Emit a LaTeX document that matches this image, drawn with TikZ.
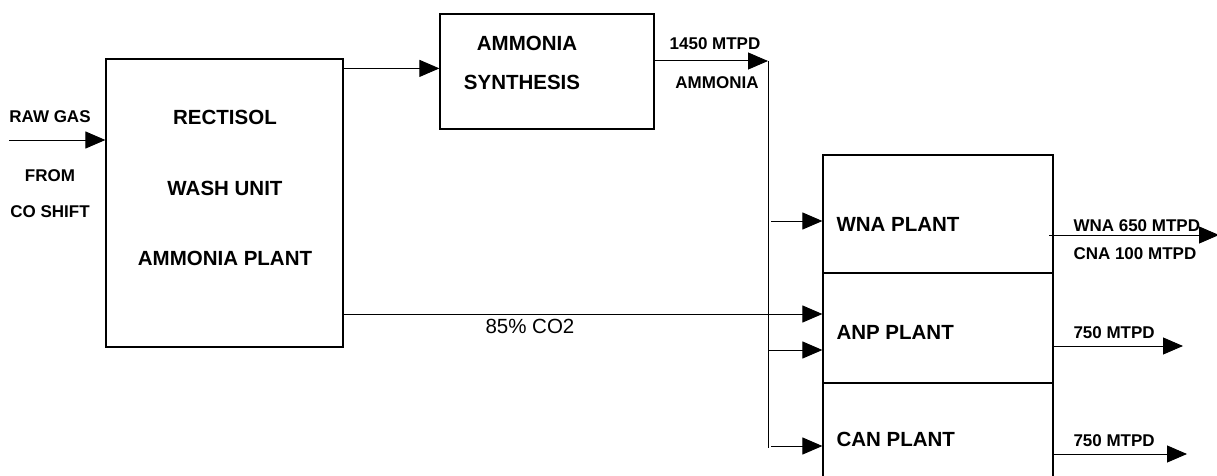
\documentclass[tikz,border=0pt]{standalone}
\usepackage{fontspec}
\setmainfont{Liberation Sans}
\usetikzlibrary{
  arrows.meta,%
  positioning
}
\tikzset{>={Triangle[length=20pt, width=17pt]}}
\tikzset{unitbox/.style={draw, line width=1.2pt, inner sep=0pt}}
\tikzset{boxtext/.style={inner sep=0pt, font=\fontsize{20.5}{24}\selectfont\bfseries}}
\tikzset{flowtext/.style={inner sep=0pt, font=\fontsize{17}{20}\selectfont\bfseries}}

\begin{document}
\begin{tikzpicture}[x=1pt, y=-1pt, line width=1pt]
  \useasboundingbox (0,0) rectangle (1217,476);
  % boxes
  \node[unitbox, minimum width=237pt, minimum height=288pt] (rect) at (224.5,203) {}; %
  \node[unitbox, minimum width=214pt, minimum height=115pt] (synth) at (547,71.5) {}; %
  \node[unitbox, minimum width=230pt, minimum height=118pt] (wna) at (938,214) {}; %
  \node[unitbox, minimum width=230pt, minimum height=110pt] (anp) at (938,328) {}; %
  \node[unitbox, minimum width=230pt, minimum height=110pt] (can) at (938,438) {}; %
  % box texts
  \node[boxtext] (rectA) at (225,117) {RECTISOL}; %
  \node[boxtext] (rectB) at (225,188) {WASH UNIT}; %
  \node[boxtext] (rectC) at (225,258) {AMMONIA PLANT}; %
  \node[boxtext] (synthA) at (527,43) {AMMONIA}; %
  \node[boxtext] (synthB) at (522,82) {SYNTHESIS}; %
  \node[boxtext, anchor=west] (wnaT) at (836,224) {WNA PLANT}; %
  \node[boxtext, anchor=west] (anpT) at (836,332) {ANP PLANT}; %
  \node[boxtext, anchor=west] (canT) at (836,439) {CAN PLANT}; %
  % raw gas feed
  \coordinate (feed) at (9,140); %
  \draw[->] (feed) -- (feed -| rect.west); %
  \node[flowtext] (rawA) at (50,117) {RAW GAS}; %
  \node[flowtext] (rawB) at (50,176) {FROM}; %
  \node[flowtext] (rawC) at (50,212) {CO SHIFT}; %
  % rectisol to synthesis
  \coordinate (syngas) at ([yshift=-10pt]rect.north east); %
  \draw[->] (syngas) -- (syngas -| synth.west); %
  % ammonia header
  \coordinate (nh3) at (768,61); %
  \coordinate (nh3end) at (768,448); %
  \draw[->] (synth.east |- nh3) -- (nh3); %
  \draw (nh3) -- (nh3end); %
  \node[flowtext] (nh3A) at (715,44) {1450 MTPD}; %
  \node[flowtext] (nh3B) at (717,83) {AMMONIA}; %
  \coordinate (tapA) at (771,221); %
  \coordinate (tapB) at (768,350); %
  \coordinate (tapC) at (771,446); %
  \draw[->] (tapA) -- (tapA -| wna.west); %
  \draw[->] (tapB) -- (tapB -| anp.west); %
  \draw[->] (tapC) -- (tapC -| can.west); %
  % carbon dioxide
  \coordinate (co2) at (343,314); %
  \draw[->] (co2) -- node[pos=0.39, below=5pt, inner sep=0pt, font=\fontsize{20.5}{24}\selectfont] (co2T) {85\% CO2} (co2 -| anp.west); %
  % products
  \coordinate (outA) at (1049,235); %
  \coordinate (outAend) at (1219,235); %
  \coordinate (outB) at (1183,346); %
  \coordinate (outC) at (1187,454); %
  \draw[->] (outA) -- (outAend); %
  \draw[->] (anp.east |- outB) -- (outB); %
  \draw[->] (can.east |- outC) -- (outC); %
  \node[flowtext, anchor=west] (prodA) at (1073,226) {WNA 650 MTPD}; %
  \node[flowtext, anchor=west] (prodB) at (1073,254) {CNA 100 MTPD}; %
  \node[flowtext, anchor=west] (prodC) at (1073,333) {750 MTPD}; %
  \node[flowtext, anchor=west] (prodD) at (1073,441) {750 MTPD}; %
\end{tikzpicture}
\end{document}
